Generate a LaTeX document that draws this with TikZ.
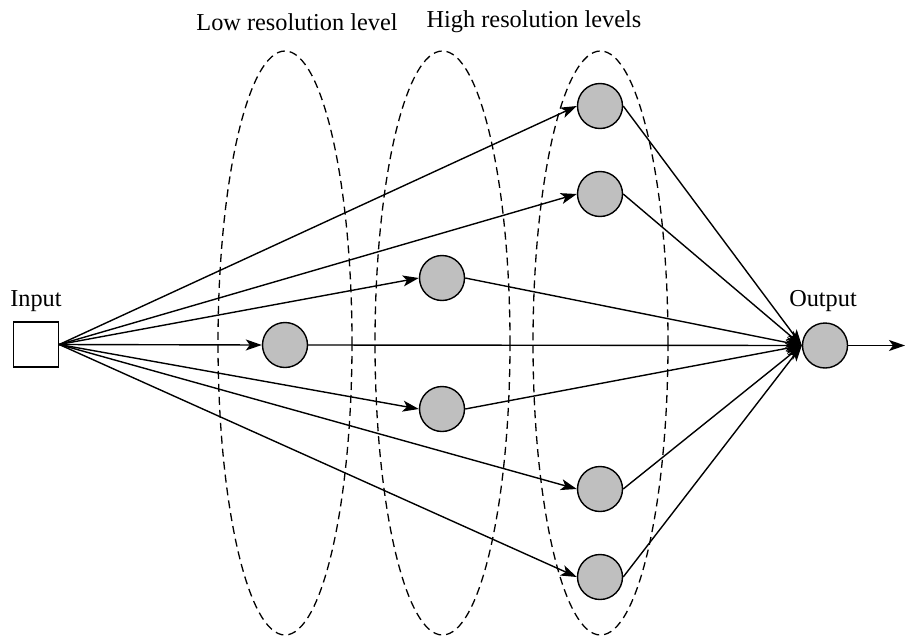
\documentclass[tikz,border=0pt]{standalone}
\usepackage{fontspec}
\setmainfont{Liberation Serif}
\usetikzlibrary{arrows.meta}
\begin{document}
\begin{tikzpicture}[x=1pt,y=-1pt,
  neuron/.style={circle,draw,line width=1.4pt,fill=black!25,minimum size=45pt,inner sep=0pt},
  inbox/.style={rectangle,draw,line width=1.4pt,fill=white,minimum size=45pt,inner sep=0pt},
  level/.style={draw,dash pattern=on 8pt off 5pt,line width=1.3pt},
  conn/.style={line width=1.4pt,-{Stealth[length=16pt,width=11pt,inset=4pt]}},
  lbl/.style={font=\fontsize{24.3}{28}\selectfont,inner sep=0pt}]
\useasboundingbox (0,0) rectangle (905,637);
% resolution levels
\draw[level] (285,343) ellipse [x radius=67, y radius=292];
\draw[level] (442.5,343) ellipse [x radius=67.5, y radius=292];
\draw[level] (600.5,343) ellipse [x radius=67.5, y radius=292];
% nodes
\node[inbox] (in) at (36,344.5) {};
\node[neuron] (c) at (285,345) {};
\node[neuron] (m1) at (442,278) {};
\node[neuron] (m2) at (442,409) {};
\node[neuron] (h1) at (600,106) {};
\node[neuron] (h2) at (600,194) {};
\node[neuron] (h3) at (600,489) {};
\node[neuron] (h4) at (600,577) {};
\node[neuron] (out) at (825,345.5) {};
\coordinate (end) at (905,345.5);
% labels
\node[lbl] (lin) at (36,301) {Input};
\node[lbl] (lout) at (823,301) {Output};
\node[lbl] (llow) at (297,22) {Low resolution level};
\node[lbl] (lhigh) at (534,22) {High resolution levels};
% connectors
\foreach \n in {c,m1,m2,h1,h2,h3,h4}{
  \draw[conn] (in.east) -- (\n.west);
  \draw[conn] (\n.east) -- (out.west);
}
\draw[conn] (out.east) -- (end);
\end{tikzpicture}
\end{document}
